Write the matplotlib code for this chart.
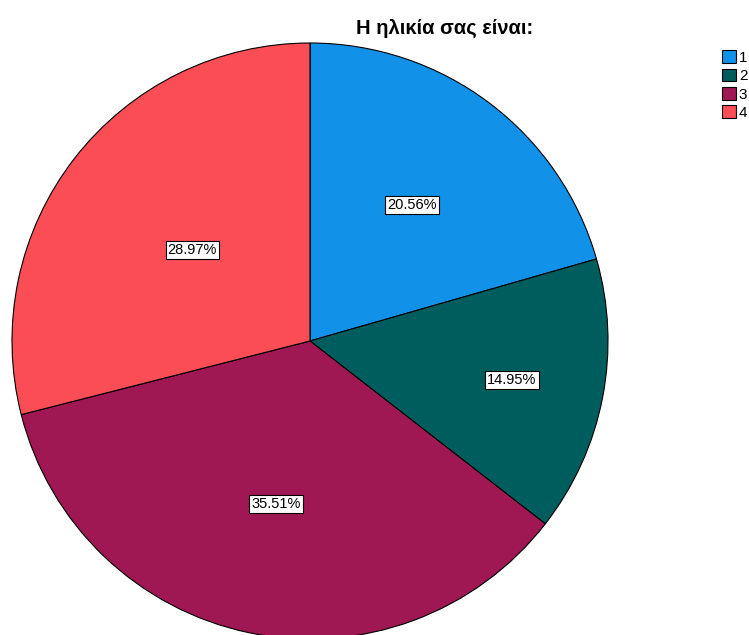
import numpy as np
import matplotlib.pyplot as plt
from matplotlib.patches import Patch

plt.rcParams['font.family'] = ['Liberation Sans', 'DejaVu Sans']

categories = ['1', '2', '3', '4']
shares = [20.56, 14.95, 35.51, 28.97]
colors = ['#1192E8', '#005D5D', '#9F1853', '#FA4D56']
label_dist = [0.57, 0.69, 0.56, 0.50]

W, H = 749, 635
fig = plt.figure(figsize=(W / 100, H / 100), dpi=100)

# pie centre (310, 341) px from top-left, radius 298 px
cx, cy, r = 310, 341, 298
ax = fig.add_axes([(cx - r) / W, (H - cy - r) / H, 2 * r / W, 2 * r / H])
wedges, _ = ax.pie(shares, colors=colors, startangle=90, counterclock=False,
                   radius=1, wedgeprops=dict(edgecolor='black', linewidth=0.8))
ax.set_xlim(-1, 1)
ax.set_ylim(-1, 1)
ax.set_axis_off()
for w in wedges:
    w.set_clip_on(False)

# percentage labels at each wedge's mid angle
for w, val, d in zip(wedges, shares, label_dist):
    mid = np.deg2rad((w.theta1 + w.theta2) / 2)
    ax.text(d * np.cos(mid), d * np.sin(mid), f'{val:.2f}%', ha='center', va='center',
            fontsize=10.5, bbox=dict(facecolor='white', edgecolor='black', linewidth=0.8, pad=1.5))

fig.text(445 / W, 1 - 28 / H, 'Η ηλικία σας είναι:', ha='center', va='center',
         fontsize=14.5, fontweight='bold')

handles = [Patch(facecolor=c, edgecolor='black', linewidth=0.8) for c in colors]
fig.legend(handles, categories, loc='upper left', bbox_to_anchor=(716 / W, 1 - 44 / H),
           frameon=False, fontsize=11, handlelength=0.9, handleheight=0.9,
           handletextpad=0.2, labelspacing=0.25, borderaxespad=0)

fig.savefig('out.png', dpi=100)
